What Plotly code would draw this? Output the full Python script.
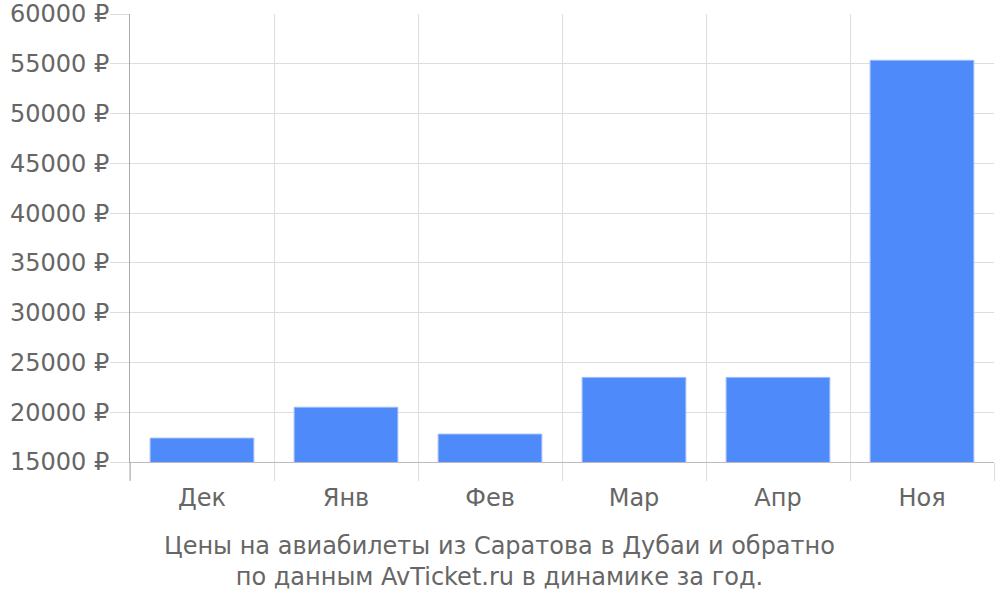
import plotly.graph_objects as go

months = ["Дек", "Янв", "Фев", "Мар", "Апр", "Ноя"]
prices = [17400, 20500, 17800, 23500, 23500, 55350]
y_ticks = [15000, 20000, 25000, 30000, 35000, 40000, 45000, 50000, 55000, 60000]
y_labels = [f"{v} ₽" for v in y_ticks]
title_text = "Цены на авиабилеты из Саратова в Дубаи и обратно<br>по данным AvTicket.ru в динамике за год."

FONT = "DejaVu Sans"
GRID = "#dddddd"
TXT = "#666666"
FS = 24

fig = go.Figure(go.Bar(
    x=months, y=prices,
    marker=dict(color="#4e8af9", line=dict(color="#9cbdfb", width=1)),
    width=0.72,
    hoverinfo="x+y",
))

fig.update_layout(
    width=1000, height=600,
    margin=dict(l=130, r=6, t=14, b=138, autoexpand=False),
    plot_bgcolor="white", paper_bgcolor="white",
    font=dict(family=FONT, size=FS, color=TXT),
    showlegend=False,
    bargap=0.28,
)
fig.update_xaxes(
    type="category", tickson="boundaries",
    showgrid=True, gridcolor=GRID, gridwidth=1,
    ticks="outside", ticklen=18, tickcolor=GRID,
    showline=True, linecolor="#bbbbbb", linewidth=1,
    tickfont=dict(family=FONT, size=FS, color=TXT),
    ticklabelstandoff=14,
    zeroline=False, automargin=False,
)
fig.update_yaxes(
    range=[15000, 60000], tickvals=y_ticks, ticktext=y_labels,
    showgrid=True, gridcolor=GRID, gridwidth=1,
    ticks="outside", ticklen=19, tickcolor=GRID,
    showline=True, linecolor="#aaaaaa", linewidth=1,
    tickfont=dict(family=FONT, size=FS, color=TXT),
    ticklabeloverflow="allow", ticklabelstandoff=-4,
    zeroline=False, automargin=False,
)
fig.add_shape(type="line", xref="x domain", yref="y domain",
              x0=0, x1=0, y0=-0.042, y1=0,
              line=dict(color="#aaaaaa", width=1))
fig.add_annotation(text=title_text, xref="paper", yref="paper",
                   x=0.428, y=-0.221, xanchor="center", yanchor="middle",
                   showarrow=False, align="center",
                   font=dict(family=FONT, size=FS, color=TXT))

fig.write_html("out.html", config={"displayModeBar": False},
               post_script="document.body.style.margin='0';")
